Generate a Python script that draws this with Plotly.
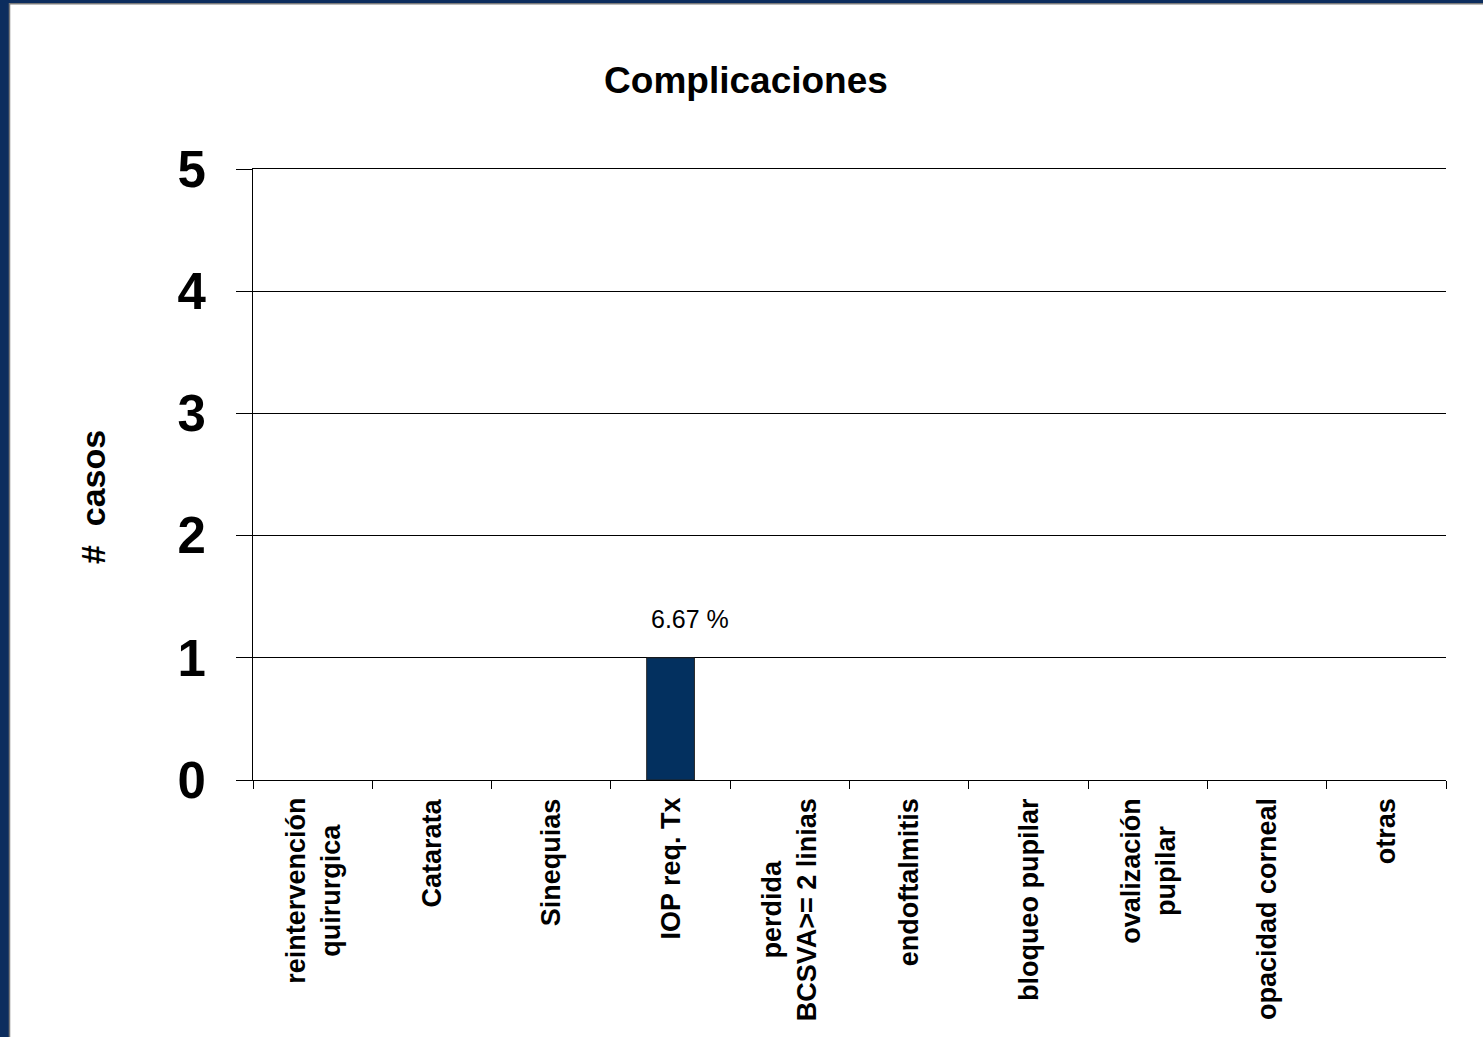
import plotly.graph_objects as go

# Complicaciones registradas por tipo (número de casos)
categorias = [
    "reintervención<br>quirurgica",
    "Catarata",
    "Sinequias",
    "IOP req. Tx",
    "perdida<br>BCSVA>= 2 linias",
    "endoftalmitis",
    "bloqueo pupilar",
    "ovalización<br>pupilar",
    "opacidad corneal",
    "otras",
]
casos = [0, 0, 0, 1, 0, 0, 0, 0, 0, 0]
etiquetas_pct = ["", "", "", "6.67 %", "", "", "", "", "", ""]
y_ticks = [0, 1, 2, 3, 4, 5]

# Page geometry (pixels)
FIG_W, FIG_H = 1483, 1037
M_L, M_R, M_T, M_B = 253, 37, 169, 257
PLOT_W = FIG_W - M_L - M_R
PLOT_H = FIG_H - M_T - M_B


def px_x(px):
    return (px - M_L) / PLOT_W


def px_y(py):
    return (FIG_H - M_B - py) / PLOT_H


NAVY = "#0c2d5e"
BAR = "#03305f"
FONT = "Liberation Sans, Arial, sans-serif"

fig = go.Figure()
fig.add_trace(go.Bar(
    x=categorias,
    y=casos,
    width=0.4,
    marker=dict(
        color=BAR,
        # outline only on bars that have height
        line=dict(color="#222222", width=[1 if v > 0 else 0 for v in casos]),
    ),
    hoverinfo="x+y",
))

annotations = []
# value labels above bars
for cat, v, lab in zip(categorias, casos, etiquetas_pct):
    if lab:
        annotations.append(dict(
            x=cat, y=v, xref="x", yref="y", text=lab, showarrow=False,
            xanchor="center", yanchor="middle", yshift=39, xshift=19,
            font=dict(family=FONT, size=25, color="#000000"),
        ))
# category labels, rotated and centred line by line
for cat in categorias:
    annotations.append(dict(
        x=cat, y=0, xref="x", yref="y", text=f"<b>{cat}</b>", showarrow=False,
        textangle=-90, align="center", xanchor="center", yanchor="top",
        yshift=-16, font=dict(family=FONT, size=27, color="#000000"),
    ))
# y-axis title
annotations.append(dict(
    x=px_x(93), y=px_y(497), xref="paper", yref="paper", text="<b>#  casos</b>",
    showarrow=False, textangle=-90, xanchor="center", yanchor="middle",
    font=dict(family=FONT, size=34, color="#000000"),
))

shapes = [
    # slide frame: navy strips on the left and top with a grey inner edge
    dict(type="rect", xref="paper", yref="paper", x0=px_x(0), x1=px_x(9),
         y0=px_y(FIG_H), y1=px_y(0), fillcolor=NAVY, line=dict(width=0), layer="above"),
    dict(type="rect", xref="paper", yref="paper", x0=px_x(0), x1=px_x(FIG_W),
         y0=px_y(3), y1=px_y(0), fillcolor=NAVY, line=dict(width=0), layer="above"),
    dict(type="line", xref="paper", yref="paper", x0=px_x(9.5), x1=px_x(9.5),
         y0=px_y(FIG_H), y1=px_y(3), line=dict(color="#7a7a7a", width=1.5)),
    dict(type="line", xref="paper", yref="paper", x0=px_x(9), x1=px_x(FIG_W),
         y0=px_y(3.7), y1=px_y(3.7), line=dict(color="#7a7a7a", width=1.5)),
]

fig.update_layout(
    width=FIG_W, height=FIG_H,
    margin=dict(l=M_L, r=M_R, t=M_T, b=M_B, autoexpand=False),
    paper_bgcolor="#ffffff", plot_bgcolor="#ffffff",
    showlegend=False,
    title=dict(text="<b>Complicaciones</b>", x=746 / FIG_W, xref="container",
               xanchor="center", y=1 - 80 / FIG_H, yref="container", yanchor="middle",
               font=dict(family=FONT, size=37, color="#000000")),
    annotations=annotations,
    shapes=shapes,
    font=dict(family=FONT, color="#000000"),
)

fig.update_xaxes(
    type="category", range=[-0.5, len(categorias) - 0.5],
    showticklabels=False, tickson="boundaries", ticks="outside", ticklen=8,
    tickcolor="#000000", tickwidth=1, showline=True, mirror=True,
    linecolor="#000000", linewidth=1, showgrid=False, zeroline=False,
)
fig.update_yaxes(
    range=[0, 5], tickmode="array", tickvals=y_ticks, ticktext=[f"<b>{t}</b>" for t in y_ticks],
    ticks="outside", ticklen=16, tickcolor="#000000", tickwidth=1,
    ticklabelstandoff=20,
    tickfont=dict(family=FONT, size=51, color="#000000"),
    showline=True, linecolor="#000000", linewidth=1,
    showgrid=True, gridcolor="#000000", gridwidth=1, zeroline=False,
)

fig.write_html("out.html")
